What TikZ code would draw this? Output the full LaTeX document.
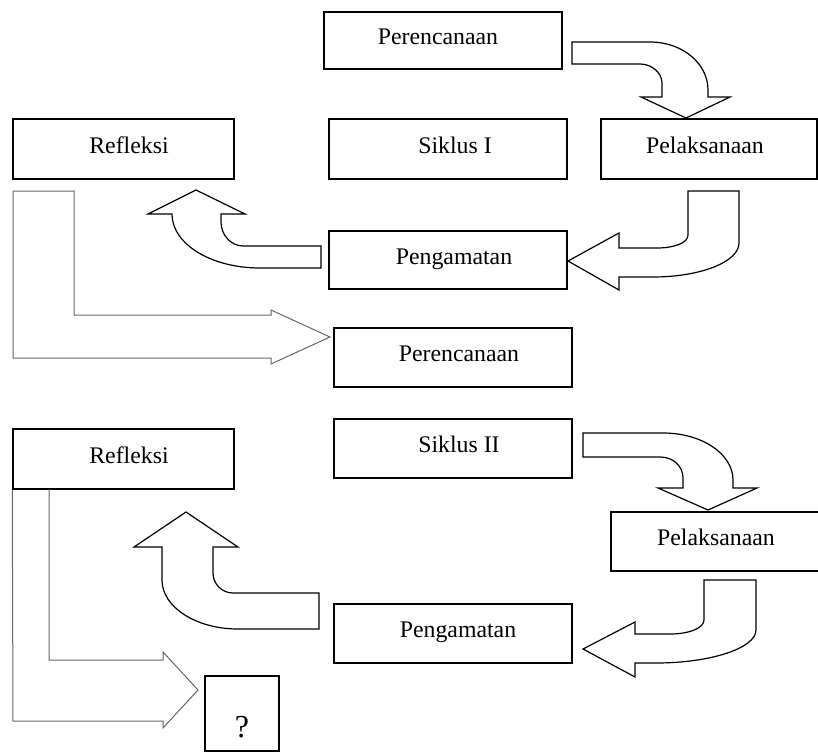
\documentclass[tikz,border=0pt]{standalone}
\usepackage{fontspec}
\setmainfont{Liberation Serif}
\begin{document}
\begin{tikzpicture}[x=1pt,y=-1pt,
  box/.style={draw=black, line width=1.5pt, fill=white, rectangle, inner sep=0pt,
    font=\fontsize{23.8}{28}\selectfont, text height=16pt, text depth=8pt},
  blockarrow/.style={draw=black, line width=1.2pt, fill=white, line join=miter},
  grayarrow/.style={draw=black!60, line width=1pt, line join=miter}]
\useasboundingbox (0,0) rectangle (818,752);
\clip (0,0) rectangle (818,752);

% boxes
\node[box, minimum width=238pt, minimum height=57pt] (per1) at (443,40.5) {Perencanaan\hspace*{10pt}};
\node[box, minimum width=238pt, minimum height=60pt] (sik1) at (448,149) {\hspace*{14pt}Siklus I};
\node[box, minimum width=216pt, minimum height=60pt] (pel1) at (709,149) {Pelaksanaan\hspace*{8pt}};
\node[box, minimum width=221pt, minimum height=60pt] (ref1) at (123.5,149) {\hspace*{11pt}Refleksi};
\node[box, minimum width=238pt, minimum height=58pt] (pen1) at (448,260) {\hspace*{12pt}Pengamatan};
\node[box, minimum width=238pt, minimum height=59pt] (per2) at (453,357.5) {\hspace*{12pt}Perencanaan};
\node[box, minimum width=221pt, minimum height=60pt] (ref2) at (123.5,459) {\hspace*{11pt}Refleksi};
\node[box, minimum width=238pt, minimum height=59pt] (sik2) at (453,448.5) {\hspace*{12pt}Siklus II};
\node[box, minimum width=210pt, minimum height=59pt] (pel2) at (716,541.5) {Pelaksanaan};
\node[box, minimum width=238pt, minimum height=59pt] (pen2) at (453,633.5) {\hspace*{10pt}Pengamatan};
\node[box, minimum width=74pt, minimum height=75pt, font=\fontsize{32}{36}\selectfont,
  text height=55pt, text depth=8pt] (q) at (242,713.5) {?};

% Siklus I: Perencanaan -> Pelaksanaan
\draw[blockarrow] (572,42) -- (650,42) .. controls (683,42) and (708,64) .. (708,90)
  -- (708,97) -- (730,97) -- (686,118) -- (641,97) -- (662,97) -- (662,83)
  .. controls (662,73) and (652,64) .. (640,64) -- (572,64) -- cycle;
% Pelaksanaan -> Pengamatan
\draw[blockarrow] (688,191) -- (739,191) -- (739,243) .. controls (739,262) and (700,277) .. (653,277)
  -- (619,277) -- (619,290) -- (568,261) -- (619,233) -- (619,248) -- (657,248)
  .. controls (674,248) and (688,243) .. (688,235) -- cycle;
% Pengamatan -> Refleksi
\draw[blockarrow] (321,246) -- (243,246) .. controls (231,246) and (221,235) .. (221,222)
  -- (221,214) -- (245,214) -- (196,190) -- (148,214) -- (172,214)
  .. controls (172,244) and (211,268) .. (260,268) -- (321,268) -- cycle;
% Refleksi -> Perencanaan (gray)
\draw[grayarrow] (13,191) -- (74,191) -- (74,315) -- (271,315) -- (271,310) -- (330,337)
  -- (271,364) -- (271,358) -- (13,358) -- cycle;

% Siklus II -> Pelaksanaan
\draw[blockarrow] (583,433) -- (663,433) .. controls (702,433) and (733,454) .. (733,480)
  -- (733,488) -- (757,488) -- (708,510) -- (658,488) -- (683,488) -- (683,478)
  .. controls (683,466) and (673,457) .. (660,457) -- (583,457) -- cycle;
% Pelaksanaan -> Pengamatan
\draw[blockarrow] (704,580) -- (756,580) -- (756,630) .. controls (756,648) and (711,663) .. (656,663)
  -- (635,663) -- (635,677) -- (583,649) -- (635,622) -- (635,634) -- (670,634)
  .. controls (689,634) and (704,628) .. (704,620) -- cycle;
% Pengamatan -> Refleksi
\draw[blockarrow] (319,593) -- (233,593) .. controls (222,593) and (213,584) .. (213,573)
  -- (213,547) -- (238,547) -- (186,512) -- (134,547) -- (162,547) -- (162,580)
  .. controls (162,607) and (196,629) .. (238,629) -- (319,629) -- cycle;
% Refleksi -> ? (gray)
\draw[grayarrow] (ref2.south west) -- (13,721) -- (163,721) -- (163,728) -- (198,690)
  -- (163,652) -- (163,660) -- (49,660) -- (49,489);
\end{tikzpicture}
\end{document}
